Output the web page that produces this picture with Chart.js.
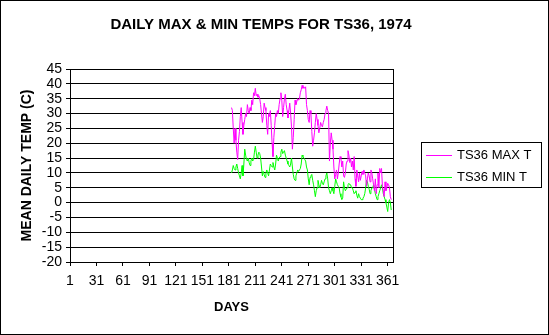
<!DOCTYPE html>
<html>
<head>
<meta charset="utf-8">
<script src="https://cdn.jsdelivr.net/npm/chart.js@4/dist/chart.umd.min.js"></script>
<style>
  html, body { margin: 0; padding: 0; background: #fff; }
  canvas { display: block; }
</style>
</head>
<body>
<canvas id="grafico" width="549" height="335"></canvas>
<script>
// DATOS
const titulo = "DAILY MAX & MIN TEMPS FOR TS36, 1974";
const seriesNombres = ["TS36 MAX T", "TS36 MIN T"];
const diaInicio = 184;

// temperatura maxima diaria, dias 184..365
const maxT = [
  32, 31, 25, 20, 25, 21, 17, 14.5, 21, 24,
  29, 32, 27, 23, 26, 28, 30, 29, 33, 31,
  30, 32, 31, 34.5, 33, 37, 36, 38.5, 36, 36.5,
  35.5, 36, 35, 33, 30, 27, 29, 33.5, 32, 31,
  26, 23, 30, 29, 31, 26, 20, 15.5, 22, 26,
  30, 29, 31, 30, 33, 35, 37, 34.5, 29, 32,
  35, 36.5, 33, 31, 28.5, 31, 33.5, 30, 25.5, 18,
  22, 28, 34.5, 33, 34, 35, 34.5, 35, 37, 38,
  39.5, 38.5, 39, 38.5, 39, 33, 31, 28, 27, 31,
  30, 24, 19, 21, 23.5, 27, 30, 28, 26, 23.5,
  25, 27, 26, 25.5, 27, 28, 30, 31, 32.5, 31,
  30, 14, 20, 23.5, 21, 18, 12, 8, 9.5, 11,
  8, 10, 13, 15.5, 15, 12, 14, 9, 8.5, 10,
  13, 14, 17.5, 16, 13.5, 15, 12, 14, 11, 15.5,
  8, 5.5, 11, 9, 7, 10, 7.5, 9, 10.5, 9.5,
  11, 10, 9, 5.5, 8, 10, 9, 7, 11, 10,
  8, 6, 4, 8, 3, 6, 10, 5, 11.5, 10,
  11.5, 5.5, 4, 2, 7, 4, 5, 6.5, 6, 5,
  2, 1
];

// temperatura minima diaria, dias 184..365
const minT = [
  10, 11, 12.5, 11.5, 11, 12, 13, 11.5, 10, 9,
  8, 10, 12.5, 9, 13, 18, 16, 14.5, 14, 15,
  13.5, 12.5, 14, 15, 14, 14.5, 17, 19, 17, 15,
  16, 17, 16.5, 15, 12, 9, 10.5, 9.5, 8.5, 10,
  11, 10, 9, 11, 13, 12.5, 12, 13.5, 12, 11,
  13, 16, 15, 14, 15, 15.5, 17, 18, 16.5, 17,
  17.5, 16, 15, 14, 13, 12.5, 12, 13, 15, 12,
  9.5, 8, 7.5, 9, 10, 11, 10.5, 11, 11.5, 13,
  16, 15.5, 15, 14.5, 14, 12, 11, 8, 6, 8.5,
  9, 9.5, 7.5, 6, 4, 2, 4, 5, 7.5, 6,
  5, 6, 7.5, 6.5, 6, 7, 8, 9, 10, 8,
  5, 4, 3, 4, 5, 4, 3, 5.5, 8, 7,
  6, 5.5, 5, 3, 2, 1, 1.5, 7, 5, 4,
  4.5, 5, 6, 6.5, 6, 6, 5, 5, 4, 3,
  3.5, 4, 2.5, 1.5, 3, 2, 1.5, 1, 1, 1.5,
  2, 3, 5, 7.5, 7, 5.5, 4.5, 3, 4, 5,
  5, 6, 4.5, 3, 2, 1, 2, 3, 4, 5,
  6, 5, 3, 2, 1, 0, -1.5, -3, 0, 1,
  0, -2.5
];

const ticksDias = [1, 31, 61, 91, 121, 151, 181, 211, 241, 271, 301, 331, 361];
const tempMin = -20;
const tempMax = 45;
const tempPaso = 5;

const colores = ["#ff00ff", "#00ff00"];

function aPuntos(valores) {
  return valores.map((v, i) => ({ x: diaInicio + i, y: v }));
}

// TITULO, MARCO, BORDE DEL AREA Y LEYENDA
const marcos = {
  id: "marcos",
  beforeDraw(chart) {
    const ctx = chart.ctx;
    ctx.save();
    ctx.fillStyle = "#fff";
    ctx.fillRect(0, 0, chart.width, chart.height);
    ctx.restore();
  },
  afterDraw(chart) {
    const ctx = chart.ctx;
    const a = chart.chartArea;
    ctx.save();
    ctx.strokeStyle = "#000";
    ctx.lineWidth = 1;
    ctx.strokeRect(0.5, 0.5, chart.width - 1, chart.height - 1);
    ctx.strokeRect(Math.round(a.left) + 0.5, Math.round(a.top) + 0.5,
      Math.round(a.right - a.left), Math.round(a.bottom - a.top));

    // titulo
    ctx.fillStyle = "#000";
    ctx.font = "bold 15px Arial, 'Liberation Sans', sans-serif";
    ctx.textAlign = "center";
    ctx.textBaseline = "middle";
    ctx.fillText(titulo, 261, 25);

    // leyenda
    ctx.strokeRect(421.5, 142.5, 120, 45);
    ctx.font = "13px Arial, 'Liberation Sans', sans-serif";
    ctx.textAlign = "left";
    chart.data.datasets.forEach((ds, i) => {
      const y = 155.5 + i * 22;
      ctx.strokeStyle = ds.borderColor;
      ctx.beginPath();
      ctx.moveTo(426, y);
      ctx.lineTo(452, y);
      ctx.stroke();
      ctx.fillText(ds.label, 457, y);
    });
    ctx.restore();
  }
};

Chart.defaults.font.family = "Arial, 'Liberation Sans', sans-serif";
Chart.defaults.color = "#000";

new Chart(document.getElementById("grafico"), {
  type: "line",
  data: {
    datasets: [
      {
        label: seriesNombres[0],
        data: aPuntos(maxT),
        borderColor: colores[0],
        borderWidth: 1,
        pointRadius: 0,
        tension: 0
      },
      {
        label: seriesNombres[1],
        data: aPuntos(minT),
        borderColor: colores[1],
        borderWidth: 1,
        pointRadius: 0,
        tension: 0
      }
    ]
  },
  options: {
    responsive: false,
    animation: false,
    devicePixelRatio: 1,
    layout: { padding: { top: 69, right: 156, bottom: 0, left: 0 } },
    plugins: {
      legend: { display: false },
      tooltip: { enabled: false },
      title: { display: false }
    },
    scales: {
      x: {
        type: "linear",
        min: 1,
        max: 367,
        afterBuildTicks(scale) {
          scale.ticks = ticksDias.map(v => ({ value: v }));
        },
        afterFit(scale) { scale.height = 73; },
        ticks: { autoSkip: false, maxRotation: 0, padding: 7, font: { size: 14 } },
        grid: { drawOnChartArea: false, drawTicks: true, tickLength: 4, color: "#000" },
        border: { display: true, color: "#000" },
        title: {
          display: true,
          text: "DAYS",
          font: { size: 13, weight: "bold" },
          padding: { top: 0, bottom: 20 }
        }
      },
      y: {
        min: tempMin,
        max: tempMax,
        afterFit(scale) { scale.width = 70; },
        ticks: { stepSize: tempPaso, autoSkip: false, padding: 4, font: { size: 14 } },
        grid: { color: "#000", lineWidth: 1, drawTicks: true, tickLength: 4 },
        border: { display: true, color: "#000" },
        title: {
          display: true,
          text: "MEAN DAILY TEMP (C)",
          font: { size: 14, weight: "bold" },
          padding: { top: 19, bottom: 0 }
        }
      }
    }
  },
  plugins: [marcos]
});
</script>
</body>
</html>
